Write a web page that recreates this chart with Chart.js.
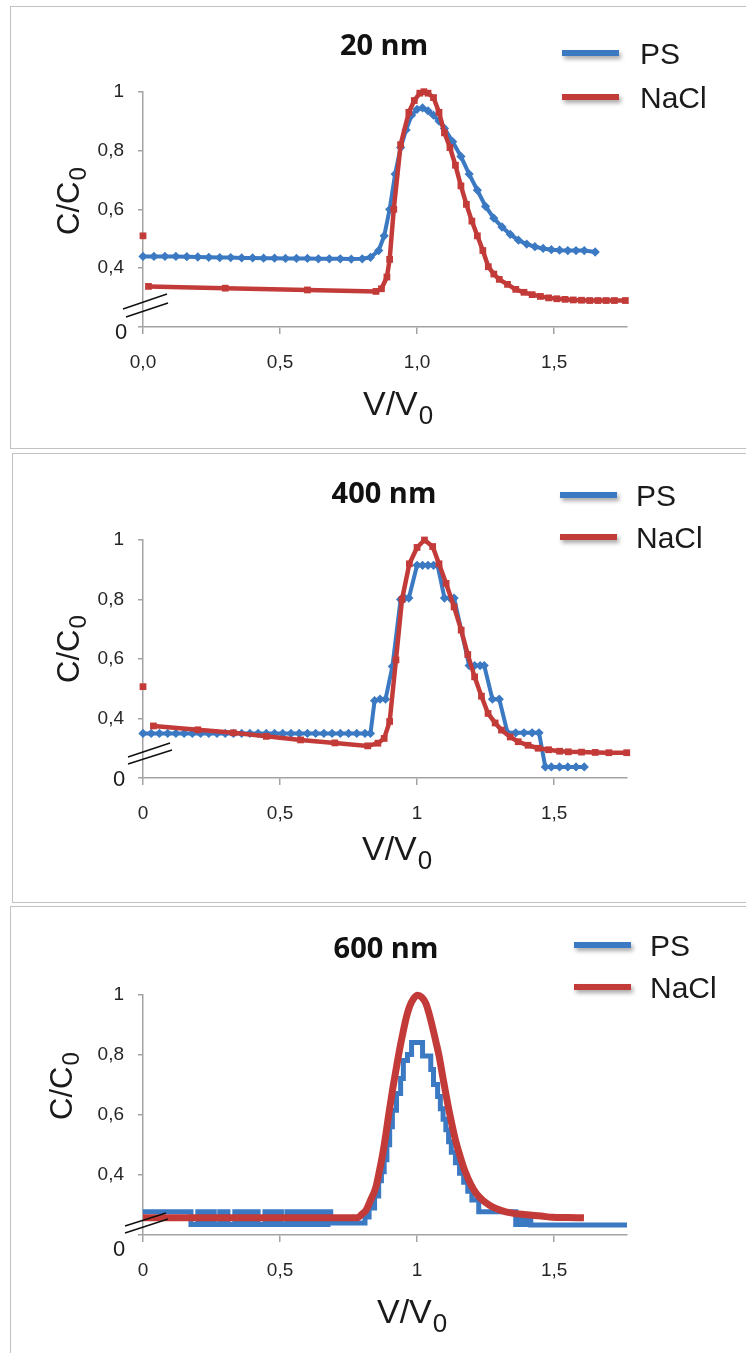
<!DOCTYPE html>
<html>
<head>
<meta charset="utf-8">
<script src="https://cdn.jsdelivr.net/npm/chart.js@4.4.1/dist/chart.umd.min.js"></script>
<style>
    html, body { margin: 0; padding: 0; background: #fff; }
    body { width: 746px; height: 1353px; position: relative; overflow: hidden; }
    .frame { position: absolute; border: 1.5px solid #c2c2c2; box-sizing: border-box; }
    canvas { position: absolute; left: 0; }
</style>
</head>
<body>
<div class="frame" style="left:10px;top:6px;width:760px;height:443px"></div>
<div class="frame" style="left:12px;top:453px;width:760px;height:450px"></div>
<div class="frame" style="left:10px;top:906px;width:760px;height:470px"></div>
<canvas id="c20" width="746" height="450" style="top:0"></canvas>
<canvas id="c400" width="746" height="452" style="top:450px"></canvas>
<canvas id="c600" width="746" height="451" style="top:902px"></canvas>
<script>
'use strict';

// Axis ticks
const xTickValues = [0, 0.5, 1, 1.5];
const xTickLabels20 = ['0,0', '0,5', '1,0', '1,5'];
const xTickLabels = ['0', '0,5', '1', '1,5'];
const yTickValues = [0.2, 0.4, 0.6, 0.8, 1];
const yTickLabels = ['', '0,4', '0,6', '0,8', '1'];

// 20 nm  [V/V0, C/C0]
const ps20 = [
    [0, 0.44], [0.04, 0.44], [0.08, 0.44], [0.12, 0.44], [0.16, 0.439], [0.2, 0.438], [0.24, 0.437],
    [0.28, 0.436], [0.32, 0.436], [0.36, 0.435], [0.4, 0.435], [0.44, 0.434], [0.48, 0.434],
    [0.52, 0.433], [0.56, 0.433], [0.6, 0.433], [0.64, 0.432], [0.68, 0.432], [0.72, 0.432],
    [0.76, 0.431], [0.8, 0.432], [0.83, 0.437], [0.86, 0.46], [0.88, 0.51], [0.9, 0.6], [0.92, 0.72],
    [0.94, 0.81], [0.96, 0.87], [0.98, 0.92], [1.0, 0.94], [1.02, 0.945], [1.04, 0.935], [1.06, 0.92],
    [1.08, 0.9], [1.1, 0.875], [1.13, 0.83], [1.16, 0.78], [1.19, 0.72], [1.22, 0.665], [1.25, 0.61],
    [1.28, 0.57], [1.31, 0.54], [1.34, 0.515], [1.37, 0.495], [1.4, 0.482], [1.43, 0.473],
    [1.46, 0.467], [1.49, 0.463], [1.52, 0.461], [1.55, 0.46], [1.58, 0.46], [1.61, 0.46], [1.65, 0.455]
];
const nacl20 = [
    [0, 0.51], [0.01, null], [0.02, 0.338], [0.3, 0.332], [0.6, 0.326], [0.85, 0.321], [0.87, 0.33],
    [0.89, 0.37], [0.9, 0.43], [0.915, 0.6], [0.94, 0.82], [0.97, 0.93], [0.99, 0.97], [1.01, 0.995],
    [1.025, 1.0], [1.04, 0.995], [1.06, 0.98], [1.08, 0.93], [1.1, 0.86], [1.12, 0.81], [1.14, 0.75],
    [1.16, 0.68], [1.18, 0.617], [1.2, 0.56], [1.22, 0.51], [1.24, 0.46], [1.26, 0.405], [1.28, 0.38],
    [1.3, 0.362], [1.33, 0.345], [1.36, 0.328], [1.39, 0.318], [1.42, 0.31], [1.45, 0.304],
    [1.48, 0.299], [1.51, 0.296], [1.54, 0.294], [1.57, 0.292], [1.6, 0.291], [1.63, 0.29],
    [1.66, 0.29], [1.69, 0.29], [1.72, 0.29], [1.76, 0.29]
];

// 400 nm
const ps400 = [
    [0, 0.35], [0.03, 0.35], [0.06, 0.35], [0.09, 0.35], [0.12, 0.35], [0.15, 0.35], [0.18, 0.35],
    [0.21, 0.35], [0.24, 0.35], [0.27, 0.35], [0.3, 0.35], [0.33, 0.35], [0.36, 0.35], [0.39, 0.35],
    [0.42, 0.35], [0.45, 0.35], [0.48, 0.35], [0.51, 0.35], [0.54, 0.35], [0.57, 0.35], [0.6, 0.35],
    [0.63, 0.35], [0.66, 0.35], [0.69, 0.35], [0.72, 0.35], [0.75, 0.35], [0.78, 0.35], [0.81, 0.35],
    [0.83, 0.35], [0.845, 0.46], [0.865, 0.465], [0.885, 0.465], [0.91, 0.575], [0.94, 0.8],
    [0.955, 0.805], [0.97, 0.805], [1.0, 0.915], [1.02, 0.915], [1.04, 0.915], [1.06, 0.915],
    [1.075, 0.915], [1.1, 0.805], [1.12, 0.805], [1.135, 0.805], [1.19, 0.578], [1.21, 0.578],
    [1.23, 0.578], [1.245, 0.578], [1.275, 0.465], [1.3, 0.465], [1.33, 0.352], [1.36, 0.352],
    [1.39, 0.352], [1.42, 0.352], [1.445, 0.352], [1.468, 0.237], [1.49, 0.237], [1.52, 0.237],
    [1.55, 0.237], [1.58, 0.237], [1.61, 0.237]
];
const nacl400 = [
    [0, 0.507], [0.01, null], [0.038, 0.375], [0.2, 0.362], [0.33, 0.352], [0.45, 0.34], [0.575, 0.328],
    [0.7, 0.318], [0.82, 0.308], [0.857, 0.317], [0.88, 0.333], [0.9, 0.39], [0.923, 0.597],
    [0.945, 0.8], [0.972, 0.92], [1.0, 0.975], [1.027, 1.0], [1.057, 0.978], [1.08, 0.92],
    [1.106, 0.854], [1.135, 0.775], [1.161, 0.697], [1.185, 0.615], [1.21, 0.54], [1.235, 0.475],
    [1.259, 0.417], [1.285, 0.385], [1.308, 0.361], [1.34, 0.338], [1.369, 0.322], [1.405, 0.31],
    [1.442, 0.3], [1.48, 0.295], [1.52, 0.29], [1.552, 0.288], [1.6, 0.287], [1.65, 0.286],
    [1.7, 0.285], [1.765, 0.285]
];

// 600 nm (PS is a staircase: each pair is where a new level starts)
const ps600 = [
    [0, 0.277], [0.17, 0.277], [0.175, 0.235], [0.2, 0.277], [0.21, 0.235], [0.225, 0.277],
    [0.235, 0.235], [0.25, 0.277], [0.26, 0.235], [0.28, 0.277], [0.29, 0.235], [0.3, 0.277],
    [0.31, 0.235], [0.335, 0.277], [0.345, 0.235], [0.36, 0.277], [0.37, 0.235], [0.385, 0.277],
    [0.4, 0.235], [0.41, 0.277], [0.42, 0.235], [0.445, 0.277], [0.455, 0.235], [0.47, 0.277],
    [0.48, 0.235], [0.495, 0.277], [0.505, 0.235], [0.525, 0.277], [0.535, 0.235], [0.55, 0.277],
    [0.56, 0.235], [0.575, 0.277], [0.585, 0.235], [0.6, 0.277], [0.61, 0.235], [0.625, 0.277],
    [0.635, 0.235], [0.65, 0.277], [0.66, 0.235], [0.675, 0.277], [0.685, 0.24], [0.81, 0.26],
    [0.825, 0.29], [0.845, 0.33], [0.86, 0.38], [0.87, 0.41], [0.88, 0.45], [0.89, 0.5], [0.9, 0.56],
    [0.91, 0.615], [0.925, 0.67], [0.94, 0.72], [0.95, 0.78], [0.965, 0.8], [0.98, 0.84],
    [1.02, 0.795], [1.05, 0.75], [1.06, 0.7], [1.075, 0.66], [1.085, 0.62], [1.095, 0.585],
    [1.105, 0.55], [1.115, 0.51], [1.125, 0.475], [1.14, 0.44], [1.155, 0.405], [1.17, 0.375],
    [1.185, 0.345], [1.2, 0.316], [1.225, 0.277], [1.36, 0.235], [1.37, 0.266], [1.385, 0.235],
    [1.4, 0.266], [1.415, 0.233], [1.766, 0.233]
];
const nacl600 = [
    [0, 0.257], [0.4, 0.257], [0.78, 0.257], [0.8, 0.27], [0.814, 0.283], [0.83, 0.315], [0.85, 0.36],
    [0.862, 0.41], [0.875, 0.471], [0.887, 0.54], [0.899, 0.615], [0.911, 0.685], [0.923, 0.748],
    [0.935, 0.81], [0.948, 0.87], [0.96, 0.92], [0.972, 0.958], [0.987, 0.985], [1.002, 0.997],
    [1.017, 0.99], [1.032, 0.97], [1.044, 0.935], [1.056, 0.892], [1.068, 0.845], [1.081, 0.792],
    [1.093, 0.73], [1.105, 0.67], [1.117, 0.612], [1.129, 0.56], [1.141, 0.512], [1.154, 0.471],
    [1.166, 0.435], [1.178, 0.405], [1.195, 0.37], [1.215, 0.339], [1.24, 0.315], [1.263, 0.3],
    [1.29, 0.287], [1.324, 0.277], [1.37, 0.27], [1.42, 0.266], [1.46, 0.262], [1.494, 0.259],
    [1.55, 0.258], [1.609, 0.257]
];

const BLUE = '#3b79c3';
const RED = '#c33b39';
const AXIS = '#a3a3a3';
const X_MAX = 1.766;

const toPts = arr => arr.map(([x, y]) => ({ x, y }));

// Draws "main" followed by a subscript, starting at (x, y) baseline
function subText(ctx, main, sub, x, y, font, subFont, drop) {
    ctx.font = font;
    ctx.fillText(main, x, y);
    const w = ctx.measureText(main).width;
    ctx.font = subFont;
    ctx.fillText(sub, x + w + 1, y + drop);
}

// Titles, legend, axis titles, the "0" label and the axis break
const decor = {
    id: 'decor',
    afterDraw(chart, args, o) {
        const ctx = chart.ctx;
        ctx.save();
        ctx.fillStyle = '#111';
        ctx.textBaseline = 'alphabetic';

        ctx.textAlign = 'center';
        ctx.font = 'bold 29px "Open Sans"';
        ctx.fillText(o.title, o.titleX, o.titleY);

        // legend
        [['PS', BLUE, o.legY[0]], ['NaCl', RED, o.legY[1]]].forEach(([name, color, y]) => {
            ctx.save();
            ctx.shadowColor = 'rgba(0,0,0,0.35)';
            ctx.shadowBlur = 4;
            ctx.shadowOffsetX = 2;
            ctx.shadowOffsetY = 3;
            ctx.strokeStyle = color;
            ctx.lineWidth = 6;
            ctx.beginPath();
            ctx.moveTo(o.legX[0], y);
            ctx.lineTo(o.legX[1], y);
            ctx.stroke();
            ctx.restore();
            ctx.fillStyle = '#1a1a1a';
            ctx.textAlign = 'left';
            ctx.font = '30px "Liberation Sans"';
            ctx.fillText(name, o.legText, y + 11);
        });

        ctx.fillStyle = '#1a1a1a';
        ctx.textAlign = 'left';
        subText(ctx, 'V/V', '0', o.xTitle[0], o.xTitle[1], '34px "Liberation Sans"', '26px "Liberation Sans"', 9);

        ctx.save();
        ctx.translate(o.yTitle[0], o.yTitle[1]);
        ctx.rotate(-Math.PI / 2);
        subText(ctx, 'C/C', '0', 0, 0, '31px "Liberation Sans"', '24px "Liberation Sans"', 7);
        ctx.restore();

        ctx.textAlign = 'center';
        ctx.textBaseline = 'middle';
        ctx.font = '22px "Liberation Sans"';
        ctx.fillText('0', o.zero[0], o.zero[1]);

        ctx.strokeStyle = '#111';
        ctx.lineWidth = 1.5;
        o.breaks.forEach(([x1, y1, x2, y2]) => {
            ctx.beginPath();
            ctx.moveTo(x1, y1);
            ctx.lineTo(x2, y2);
            ctx.stroke();
        });
        ctx.restore();
    }
};

function makeChart(id, p) {
    const canvas = document.getElementById(id);
    const H = canvas.height;
    const big = p.thick;
    return new Chart(canvas, {
        type: 'line',
        data: {
            datasets: [{
                label: 'PS',
                data: toPts(p.ps),
                borderColor: BLUE,
                backgroundColor: BLUE,
                borderWidth: big ? 5 : 4,
                pointStyle: 'rectRot',
                pointRadius: big ? 0 : 1.8,
                stepped: big ? 'before' : false,
                order: 1,
                clip: false
            }, {
                label: 'NaCl',
                data: toPts(p.nacl),
                borderColor: RED,
                backgroundColor: RED,
                borderWidth: big ? 7 : 4.5,
                pointStyle: 'rect',
                pointRadius: big ? 0 : 1.6,
                cubicInterpolationMode: big ? 'monotone' : 'default',
                spanGaps: false,
                order: 0,
                clip: false
            }]
        },
        options: {
            responsive: false,
            animation: false,
            layout: {
                padding: { left: 143 - 50, right: 746 - 627, top: p.top, bottom: H - p.bottom - 60 }
            },
            scales: {
                x: {
                    type: 'linear',
                    min: 0,
                    max: X_MAX,
                    afterFit: s => { s.height = 60; },
                    afterBuildTicks: s => { s.ticks = xTickValues.map(v => ({ value: v })); },
                    border: { color: AXIS, width: 1.5 },
                    grid: { drawOnChartArea: false, drawTicks: true, tickLength: 7, color: AXIS, lineWidth: 1.5 },
                    ticks: {
                        padding: 17,
                        color: '#262626',
                        font: { family: 'Liberation Sans', size: 19 },
                        maxRotation: 0,
                        callback: v => p.xLabels[xTickValues.indexOf(v)]
                    }
                },
                y: {
                    min: 0.2,
                    max: 1,
                    afterFit: s => { s.width = 50; },
                    afterBuildTicks: s => { s.ticks = yTickValues.map(v => ({ value: v })); },
                    border: { color: AXIS, width: 1.5 },
                    grid: { drawOnChartArea: false, drawTicks: true, tickLength: 5, color: AXIS, lineWidth: 1.5 },
                    ticks: {
                        padding: 14,
                        color: '#262626',
                        font: { family: 'Liberation Sans', size: 19 },
                        callback: v => yTickLabels[yTickValues.indexOf(v)]
                    }
                }
            },
            plugins: {
                legend: { display: false },
                tooltip: { enabled: false },
                decor: p.decor
            }
        },
        plugins: [decor]
    });
}

makeChart('c20', {
    ps: ps20, nacl: nacl20, xLabels: xTickLabels20, top: 91.7, bottom: 327, thick: false,
    decor: {
        title: '20 nm', titleX: 384, titleY: 55,
        legY: [53, 97], legX: [562, 619], legText: 640,
        xTitle: [363, 415], yTitle: [79, 235], zero: [121, 333],
        breaks: [[123, 309, 167, 294], [126, 317, 168, 303]]
    }
});

makeChart('c400', {
    ps: ps400, nacl: nacl400, xLabels: xTickLabels, top: 90, bottom: 328, thick: false,
    decor: {
        title: '400 nm', titleX: 384, titleY: 53,
        legY: [45, 87], legX: [560, 617], legText: 636,
        xTitle: [362, 410], yTitle: [79, 233], zero: [119, 330],
        breaks: [[128, 307, 170, 293], [128, 314, 172, 300]]
    }
});

makeChart('c600', {
    ps: ps600, nacl: nacl600, xLabels: xTickLabels, top: 92.3, bottom: 333, thick: true,
    decor: {
        title: '600 nm', titleX: 386, titleY: 56,
        legY: [43, 85], legX: [574, 631], legText: 650,
        xTitle: [377, 421], yTitle: [72, 218], zero: [119, 348],
        breaks: [[125, 324, 166, 311], [125, 331, 168, 317]]
    }
});
</script>
</body>
</html>
